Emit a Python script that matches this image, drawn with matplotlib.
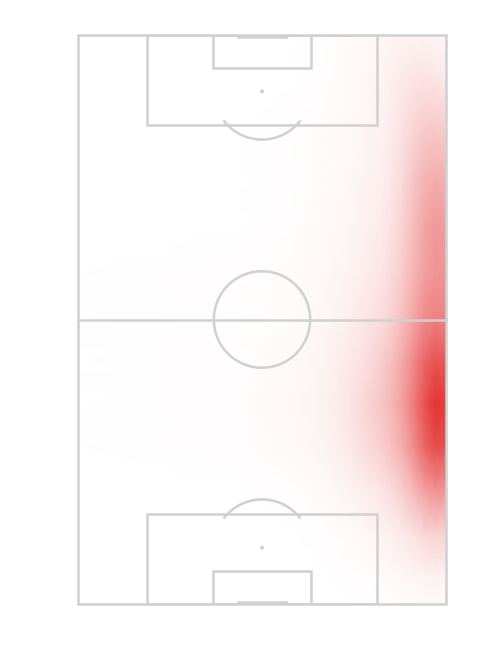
import numpy as np
import matplotlib
matplotlib.use('Agg')
import matplotlib.pyplot as plt
from matplotlib.colors import LinearSegmentedColormap
from matplotlib.patches import Arc, Circle, Rectangle

# pitch size in metres (width across, length top to bottom)
PITCH_W = 68
PITCH_L = 105

# heat grid: positions across the pitch and along it, and the density at each node
grid_x = [0, 30, 40, 46, 50, 53, 56, 58, 60, 62, 64, 66, 68]
grid_y = [0, 8, 17, 26, 35, 44, 52, 60, 68, 76, 84, 92, 100, 105]
density = [
    [0, 0, 0, 0.01, 0.02, 0.03, 0.04, 0.05, 0.06, 0.06, 0.06, 0.05, 0.04],
    [0, 0, 0, 0.01, 0.03, 0.04, 0.06, 0.08, 0.11, 0.13, 0.14, 0.13, 0.11],
    [0, 0, 0.01, 0.02, 0.03, 0.05, 0.07, 0.10, 0.15, 0.21, 0.25, 0.26, 0.24],
    [0, 0, 0.01, 0.02, 0.04, 0.06, 0.08, 0.12, 0.19, 0.28, 0.36, 0.40, 0.38],
    [0, 0, 0.01, 0.03, 0.05, 0.07, 0.10, 0.15, 0.22, 0.33, 0.43, 0.50, 0.48],
    [0, 0.01, 0.02, 0.04, 0.06, 0.09, 0.13, 0.18, 0.26, 0.37, 0.47, 0.53, 0.52],
    [0, 0.01, 0.02, 0.05, 0.08, 0.12, 0.17, 0.23, 0.32, 0.44, 0.56, 0.62, 0.60],
    [0, 0.01, 0.03, 0.06, 0.11, 0.16, 0.24, 0.32, 0.43, 0.58, 0.74, 0.84, 0.80],
    [0, 0.01, 0.04, 0.07, 0.13, 0.20, 0.28, 0.36, 0.47, 0.65, 0.85, 1.00, 0.95],
    [0, 0.01, 0.03, 0.06, 0.11, 0.17, 0.24, 0.31, 0.41, 0.57, 0.75, 0.88, 0.84],
    [0, 0, 0.01, 0.03, 0.06, 0.09, 0.13, 0.18, 0.25, 0.35, 0.47, 0.55, 0.52],
    [0, 0, 0, 0.01, 0.02, 0.04, 0.06, 0.08, 0.11, 0.15, 0.20, 0.23, 0.22],
    [0, 0, 0, 0, 0.01, 0.01, 0.02, 0.03, 0.04, 0.05, 0.06, 0.07, 0.06],
    [0, 0, 0, 0, 0, 0.01, 0.01, 0.01, 0.02, 0.02, 0.03, 0.03, 0.03],
]

line_col = '#d0d0d0'
lw = 1.8

fig = plt.figure(figsize=(5, 6.5), dpi=100)
ax = fig.add_axes([78 / 500, 46 / 650, 368 / 500, 569 / 650])
ax.set_xlim(0, PITCH_W)
ax.set_ylim(PITCH_L, 0)
ax.axis('off')

cmap = LinearSegmentedColormap.from_list('heat', ['#ffffff', '#e43434'])
X, Y = np.meshgrid(grid_x, grid_y)
ax.pcolormesh(X, Y, np.array(density), shading='gouraud', cmap=cmap, vmin=0, vmax=1, zorder=1)

kw = dict(color=line_col, lw=lw, zorder=3, clip_on=False)
# outline and halfway line
ax.add_patch(Rectangle((0, 0), PITCH_W, PITCH_L, fill=False, ec=line_col, lw=lw, zorder=3, clip_on=False))
ax.plot([0, PITCH_W], [PITCH_L / 2, PITCH_L / 2], **kw)
ax.add_patch(Circle((PITCH_W / 2, PITCH_L / 2), 8.9, fill=False, ec=line_col, lw=lw, zorder=3))

for top in (True, False):
    s = 1 if top else -1
    y0 = 0 if top else PITCH_L
    # penalty area and six-yard box
    ax.add_patch(Rectangle((PITCH_W / 2 - 21.25, min(y0, y0 + s * 16.6)), 42.5, 16.6,
                           fill=False, ec=line_col, lw=lw, zorder=3))
    ax.add_patch(Rectangle((PITCH_W / 2 - 9.0, min(y0, y0 + s * 6.1)), 18.0, 6.1,
                           fill=False, ec=line_col, lw=lw, zorder=3))
    # penalty spot and arc
    spot_y = y0 + s * 10.4
    ax.add_patch(Circle((PITCH_W / 2, spot_y), 0.25, color=line_col, zorder=3))
    if top:
        ax.add_patch(Arc((PITCH_W / 2, spot_y), 17.8, 17.8, theta1=37, theta2=143,
                         color=line_col, lw=lw, zorder=3))
    else:
        ax.add_patch(Arc((PITCH_W / 2, spot_y), 17.8, 17.8, theta1=217, theta2=323,
                         color=line_col, lw=lw, zorder=3))
    # goal mouth
    ax.plot([PITCH_W / 2 - 4.5, PITCH_W / 2 + 4.5], [y0 + s * 0.35, y0 + s * 0.35], **kw)

# corner arcs
for cx, cy, t1 in [(0, 0, 270), (PITCH_W, 0, 180), (0, PITCH_L, 0), (PITCH_W, PITCH_L, 90)]:
    ax.add_patch(Arc((cx, cy), 2, 2, theta1=t1, theta2=t1 + 90, color=line_col, lw=1.2, zorder=3))

fig.savefig('out.png', dpi=100, facecolor='white')
